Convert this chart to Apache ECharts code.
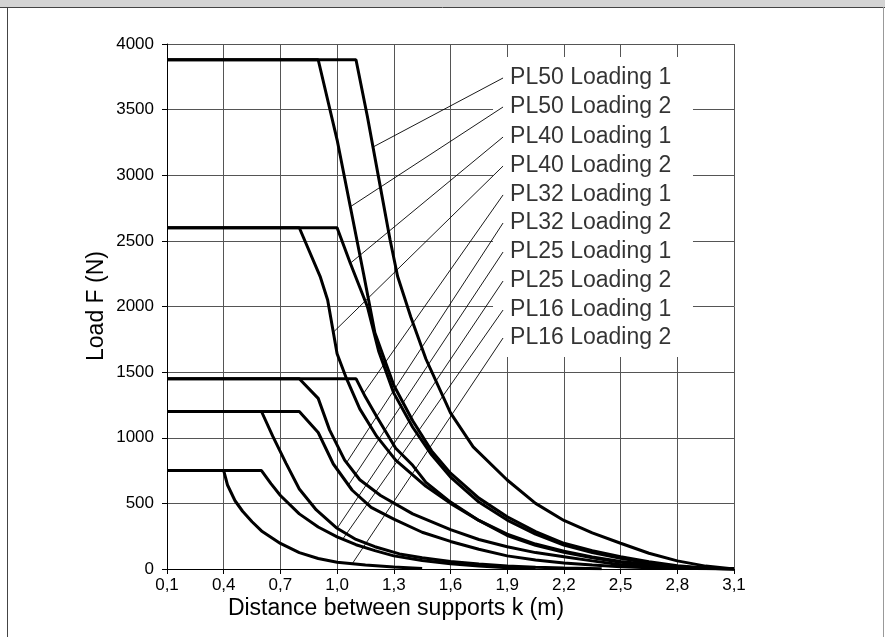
<!DOCTYPE html>
<html>
<head>
<meta charset="utf-8">
<script src="https://cdn.jsdelivr.net/npm/echarts@6/dist/echarts.min.js"></script>
<style>
html, body { margin: 0; padding: 0; background: #fff; }
#main { width: 885px; height: 637px; }
</style>
</head>
<body>
<div id="main"></div>
<script>
// curve names, same order as the labels on the right
const seriesNames = ['PL50 Loading 1', 'PL50 Loading 2', 'PL40 Loading 1', 'PL40 Loading 2',
  'PL32 Loading 1', 'PL32 Loading 2', 'PL25 Loading 1', 'PL25 Loading 2',
  'PL16 Loading 1', 'PL16 Loading 2'];

// [k (m), F (N)]
const pl50Load1 = [[0.1,3880],[1.1,3880],[1.16,3450],[1.22,2980],[1.28,2510],[1.32,2230],[1.39,1920],[1.47,1600],[1.6,1190],[1.72,930],[1.9,678],[2.05,500],[2.2,370],[2.35,275],[2.5,196],[2.65,120],[2.8,62],[2.95,22],[3.1,0]];
const pl50Load2 = [[0.1,3880],[0.9,3880],[1.0,3270],[1.07,2760],[1.14,2250],[1.2,1800],[1.26,1560],[1.3,1400],[1.4,1130],[1.5,900],[1.6,730],[1.75,540],[1.9,398],[2.05,285],[2.2,196],[2.35,140],[2.5,94],[2.65,55],[2.8,25],[2.95,8],[3.1,0]];
const pl40Load1 = [[0.1,2600],[1.0,2600],[1.07,2330],[1.16,2000],[1.22,1660],[1.3,1340],[1.4,1080],[1.5,870],[1.6,700],[1.75,510],[1.9,373],[2.05,265],[2.2,183],[2.35,125],[2.5,81],[2.65,45],[2.8,18],[2.95,5],[3.1,0]];
const pl40Load2 = [[0.1,2600],[0.8,2600],[0.91,2230],[0.95,2050],[1.0,1640],[1.05,1450],[1.12,1220],[1.21,1010],[1.31,830],[1.47,630],[1.6,500],[1.75,370],[1.9,265],[2.05,190],[2.2,135],[2.35,92],[2.5,58],[2.65,34],[2.8,18],[2.95,6],[3.1,0]];
const pl32Load1 = [[0.1,1450],[1.1,1450],[1.15,1310],[1.21,1160],[1.31,920],[1.4,790],[1.47,660],[1.6,510],[1.75,370],[1.9,255],[2.05,180],[2.2,128],[2.35,85],[2.5,52],[2.65,30],[2.8,15],[2.95,5],[3.1,0]];
const pl32Load2 = [[0.1,1450],[0.8,1450],[0.9,1300],[0.96,1060],[1.04,830],[1.12,680],[1.23,560],[1.4,420],[1.6,300],[1.75,225],[1.9,170],[2.05,125],[2.2,94],[2.35,62],[2.5,32],[2.65,18],[2.8,10],[2.95,4],[3.1,0]];
const pl25Load1 = [[0.1,1200],[0.8,1200],[0.9,1040],[0.98,800],[1.08,600],[1.18,470],[1.3,380],[1.45,280],[1.6,210],[1.75,150],[1.9,100],[2.05,68],[2.2,45],[2.35,30],[2.5,18],[2.65,10],[2.8,5],[3.1,0]];
const pl25Load2 = [[0.1,1200],[0.6,1200],[0.66,1010],[0.73,805],[0.8,610],[0.89,450],[1.0,310],[1.1,225],[1.2,170],[1.33,115],[1.45,85],[1.6,58],[1.75,38],[1.9,22],[2.05,14],[2.2,8],[2.4,2]];
const pl16Load1 = [[0.1,750],[0.6,750],[0.65,650],[0.7,560],[0.8,420],[0.9,320],[1.0,245],[1.1,185],[1.2,140],[1.3,100],[1.45,65],[1.6,40],[1.75,22],[1.9,10],[2.05,3]];
const pl16Load2 = [[0.1,750],[0.4,750],[0.42,640],[0.46,520],[0.5,440],[0.55,360],[0.6,290],[0.7,195],[0.8,125],[0.9,80],[1.0,52],[1.15,30],[1.3,15],[1.45,3]];

const curves = [pl50Load1, pl50Load2, pl40Load1, pl40Load2, pl32Load1, pl32Load2,
  pl25Load1, pl25Load2, pl16Load1, pl16Load2];

// label anchors (data coords) and where each leader line touches its curve
const labelX = 1.878;
const labelY = [3741, 3520, 3291, 3070, 2850, 2636, 2415, 2194, 1973, 1760];
const leaderEnds = [[1.19,3215],[1.07,2760],[1.07,2330],[0.98,1804],[1.14,1338],[1.05,810],[1.06,640],[1.0,310],[1.03,228],[1.08,40]];

const xMin = 0.1, xMax = 3.1, xStep = 0.3;
const yMin = 0, yMax = 4000, yStep = 500;

const font = '"Liberation Sans", Arial, sans-serif';
const chart = echarts.init(document.getElementById('main'));

const series = [];
// white box behind the labels
series.push({
  type: 'line', data: [], z: 1, silent: true,
  markArea: {
    silent: true,
    itemStyle: { color: '#fff', opacity: 1 },
    data: [[{ xAxis: 1.825, yAxis: 3901 }, { xAxis: 2.883, yAxis: 1615 }]]
  }
});
leaderEnds.forEach(function (end, i) {
  series.push({
    type: 'line', z: 2, silent: true, symbol: 'none',
    data: [[labelX, labelY[i]], end],
    lineStyle: { color: '#000', width: 0.9 }
  });
});
series.push({
  type: 'scatter', z: 4, silent: true, symbolSize: 0,
  data: labelY.map(function (y, i) { return { name: seriesNames[i], value: [labelX, y] }; }),
  label: {
    show: true, position: 'right', distance: 7, formatter: '{b}',
    color: '#000', fontSize: 23, fontFamily: font
  }
});
curves.forEach(function (c, i) {
  series.push({
    name: seriesNames[i], type: 'line', z: 3, showSymbol: false, symbol: 'none',
    data: c,
    lineStyle: { color: '#000', width: 3 }
  });
});

var option = {
  animation: false,
  grid: { left: 167, right: 151, top: 44, bottom: 68 },
  xAxis: {
    type: 'value', min: xMin, max: xMax, interval: xStep,
    axisLine: { lineStyle: { color: '#000' } },
    axisTick: { show: true, length: 5, lineStyle: { color: '#000' } },
    axisLabel: {
      margin: 8, color: '#000', fontSize: 17, fontFamily: font,
      formatter: function (v) { return v.toFixed(1).replace('.', ','); }
    },
    splitLine: { show: true, lineStyle: { color: '#555', width: 1 } }
  },
  yAxis: {
    type: 'value', min: yMin, max: yMax, interval: yStep,
    axisLine: { show: true, lineStyle: { color: '#000' } },
    axisTick: { show: true, length: 5, lineStyle: { color: '#000' } },
    axisLabel: {
      margin: 13, color: '#000', fontSize: 17, fontFamily: font,
      formatter: function (v) { return String(Math.round(v)); }
    },
    splitLine: { show: true, lineStyle: { color: '#555', width: 1 } }
  },
  graphic: [
    { type: 'rect', shape: { x: 0, y: 0, width: 885, height: 7 }, style: { fill: '#d4d4d4' } },
    { type: 'line', shape: { x1: 0, y1: 7.5, x2: 885, y2: 7.5 }, style: { stroke: '#444', lineWidth: 1 } },
    { type: 'line', shape: { x1: 7.5, y1: 7, x2: 7.5, y2: 637 }, style: { stroke: '#444', lineWidth: 1 } },
    { type: 'line', shape: { x1: 883.5, y1: 7, x2: 883.5, y2: 637 }, style: { stroke: '#999', lineWidth: 1 } },
    {
      type: 'text', x: 396, y: 609,
      style: { text: 'Distance between supports k (m)', font: '23px ' + font, fill: '#000',
        textAlign: 'center', textVerticalAlign: 'middle', align: 'center', verticalAlign: 'middle' }
    },
    {
      type: 'text', x: 97, y: 306, rotation: Math.PI / 2,
      style: { text: 'Load F (N)', font: '23px ' + font, fill: '#000',
        textAlign: 'center', textVerticalAlign: 'middle', align: 'center', verticalAlign: 'middle' }
    }
  ],
  series: series
};
chart.setOption(option);
</script>
</body>
</html>
